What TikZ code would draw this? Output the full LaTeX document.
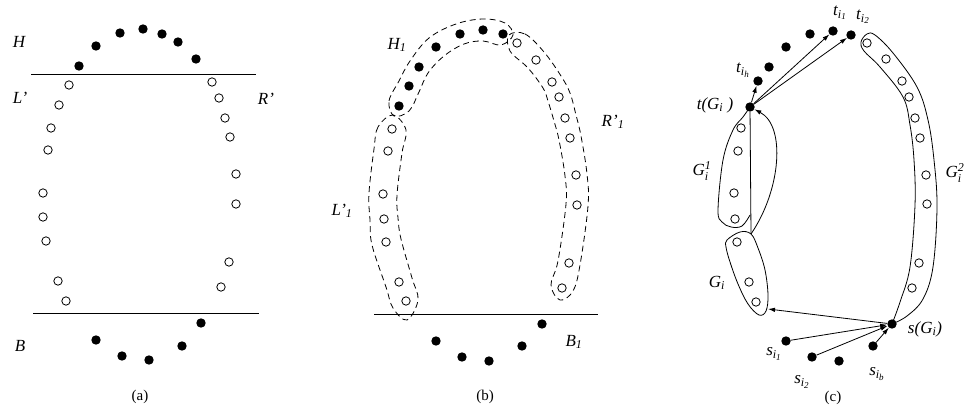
\documentclass[tikz,border=0pt]{standalone}
\usepackage{fontspec}
\setmainfont{Liberation Serif}
\usetikzlibrary{arrows.meta}
\newcommand\mysb[1]{$_{\mbox{\fontsize{12}{12}\selectfont\itshape #1}}$}
\newcommand\mysbb[2]{$_{\mbox{\fontsize{12}{12}\selectfont\itshape #1$_{\mbox{\fontsize{9}{9}\selectfont\itshape #2}}$}}$}
\newcommand\mysbsp[2]{$_{\mbox{\fontsize{12}{12}\selectfont\itshape #1}}^{\mbox{\fontsize{12}{12}\selectfont\itshape #2}}$}
\begin{document}
\begin{tikzpicture}[x=1pt,y=-1pt,
 fdot/.style={circle,fill=black,inner sep=0pt,minimum size=9.4pt},
 odot/.style={circle,draw,line width=0.8pt,inner sep=0pt,minimum size=8.4pt},
 lab/.style={inner sep=0pt,font=\fontsize{17}{17}\selectfont\itshape},
 capt/.style={inner sep=0pt,font=\fontsize{15}{15}\selectfont},
 hline/.style={line width=0.8pt},
 bandline/.style={line width=0.8pt,dash pattern=on 6pt off 4pt},
 outl/.style={line width=0.8pt},
 arr/.style={line width=0.8pt,-{Latex[length=7pt,width=4.5pt]}}]
\useasboundingbox (0,0) rectangle (969,419);

% ---------------- panel (a)
\foreach \p [count=\i] in {(79,66),(96,46),(120,33),(143,29),(162,34),(178,42),(196,59)}
  \node[fdot] (ah\i) at \p {};
\foreach \p [count=\i] in {(69,85),(59,105),(51,128),(48,150),(43,193),(43,217),(46,241),(58,281),(66,301)}
  \node[odot] (al\i) at \p {};
\foreach \p [count=\i] in {(212,82),(219,98),(225,118),(230,137),(236,174),(236,204),(229,262),(221,287)}
  \node[odot] (ar\i) at \p {};
\foreach \p [count=\i] in {(96,340),(122,356),(149,360),(182,346),(201,323)}
  \node[fdot] (ab\i) at \p {};
\coordinate (atl) at (31,74); \coordinate (atr) at (256,74);
\coordinate (abl) at (33,313); \coordinate (abr) at (259,313);
\draw[hline] (atl) -- (atr);
\draw[hline] (abl) -- (abr);
\node[lab] (labH) at (19,42) {H};
\node[lab] (labL) at (20,98) {L'};
\node[lab] (labR) at (266,99) {R'};
\node[lab] (labB) at (20,346) {B};
\node[capt] (capa) at (140,397) {(a)};

% ---------------- panel (b)
\foreach \p [count=\i] in {(399,106),(409,86),(419,67),(436,47),(460,34),(483,30),(503,34)}
  \node[fdot] (bh\i) at \p {};
\foreach \p [count=\i] in {(517,43),(536,60),(552,82),(559,97),(565,118),(570,138),(576,175),(577,205),(569,263),(562,288)}
  \node[odot] (br\i) at \p {};
\foreach \p [count=\i] in {(392,129),(388,151),(383,194),(384,219),(386,242),(399,282),(406,301)}
  \node[odot] (bl\i) at \p {};
\foreach \p [count=\i] in {(436,341),(462,357),(489,361),(522,346),(542,324)}
  \node[fdot] (bb\i) at \p {};
\coordinate (bbl) at (374,314); \coordinate (bbr) at (598,314);
\draw[hline] (bbl) -- (bbr);
\draw[bandline] plot[smooth cycle,tension=0.6] coordinates {(394,116) (389,101) (399,81) (410,61) (429,38) (456,24) (483,19) (505,23) (513,35) (501,45) (483,41) (464,44) (444,56) (428,73) (419,92) (409,111)};
\draw[bandline] plot[smooth cycle,tension=0.6] coordinates {(509,35) (525,34) (544,52) (561,76) (570,93) (576,115) (581,136) (587,174) (588,206) (580,265) (573,291) (560,300) (551,285) (558,261) (566,204) (565,176) (559,140) (554,121) (548,101) (543,88) (528,68) (510,51)};
\draw[bandline] plot[smooth cycle,tension=0.6] coordinates {(393,115) (378,127) (374,149) (369,193) (370,220) (372,245) (386,287) (393,308) (407,320) (418,300) (412,278) (401,239) (398,218) (397,195) (402,153) (406,130)};
\node[lab] (labH1) at (397,45) {H\mysb{1}};
\node[lab] (labR1) at (613,122) {R'\mysb{1}};
\node[lab] (labL1) at (342,211) {L'\mysb{1}};
\node[lab] (labB1) at (574,342) {B\mysb{1}};
\node[capt] (capb) at (485,397) {(b)};

% ---------------- panel (c)
\node[fdot] (th) at (758,81) {};
\node[fdot] (tc2) at (769,67) {};
\node[fdot] (tc3) at (786,47) {};
\node[fdot] (tc4) at (810,34) {};
\node[fdot] (t1) at (833,31) {};
\node[fdot] (t2) at (851,35) {};
\node[fdot] (tG) at (750,107) {};
\foreach \p [count=\i] in {(741,128),(738,151),(734,193),(735,219)}
  \node[odot] (cg\i) at \p {};
\foreach \p [count=\i] in {(737,242),(749,282),(756,302)}
  \node[odot] (cq\i) at \p {};
\foreach \p [count=\i] in {(867,43),(886,59),(902,81),(909,97),(915,118),(920,138),(926,175),(927,204),(919,263),(912,288)}
  \node[odot] (cr\i) at \p {};
\node[fdot] (sG) at (892,324) {};
\node[fdot] (s1) at (786,341) {};
\node[fdot] (s2) at (812,357) {};
\node[fdot] (s3) at (839,361) {};
\node[fdot] (sb) at (873,346) {};

% outlines
\draw[outl] plot[smooth,tension=0.6] coordinates {(750,107) (743,117) (733,130) (723,160) (718,210) (722,222) (731,227) (742,226) (750,215)};
\draw[outl] plot[smooth cycle,tension=0.6] coordinates {(727,240) (740,232) (751,234) (758,248) (765,270) (768,295) (766,311) (759,315) (748,304) (738,284) (730,262) (726,247)};
\draw[outl] plot[smooth,tension=0.6] coordinates {(892,324) (900,302) (910,267) (915,205) (914,160) (910,125) (903,97) (880,67) (864,51) (861,42) (867,34) (875,35) (893,53) (917,87) (928,120) (934,160) (937,207) (933,267) (923,299) (907,316) (892,324)};

\coordinate (Gtop) at (751,234);
\coordinate (Gar) at (768,309);
\draw[outl] (Gtop) -- (tG);
\draw[arr] (Gtop) .. controls (781,190) and (786,126) .. (tG);
\draw[arr] (tG) -- (th);
\draw[arr] (tG) -- (t1);
\draw[arr] (tG) -- (t2);
\draw[arr] (sG) -- (Gar);
\draw[arr] (s1) -- (sG);
\draw[arr] (s2) -- (sG);
\draw[arr] (sb) -- (sG);

\node[lab] (labth) at (743,70) {t\mysbb{i}{h}};
\node[lab] (labt1) at (840,13) {t\mysbb{i}{1}};
\node[lab] (labt2) at (863,17) {t\mysbb{i}{2}};
\node[lab] (labtG) at (715,105) {t(G\mysb{i} )};
\node[lab] (labG1) at (702,171) {G\mysbsp{i}{1}};
\node[lab] (labG2) at (955,173) {G\mysbsp{i}{2}};
\node[lab] (labG) at (717,283) {G\mysb{i}};
\node[lab] (labsG) at (925,329) {s(G\mysb{i})};
\node[lab] (labs1) at (774,354) {s\mysbb{i}{1}};
\node[lab] (labs2) at (802,382) {s\mysbb{i}{2}};
\node[lab] (labsb) at (877,374) {s\mysbb{i}{b}};
\node[capt] (capc) at (833,398) {(c)};
\end{tikzpicture}
\end{document}
